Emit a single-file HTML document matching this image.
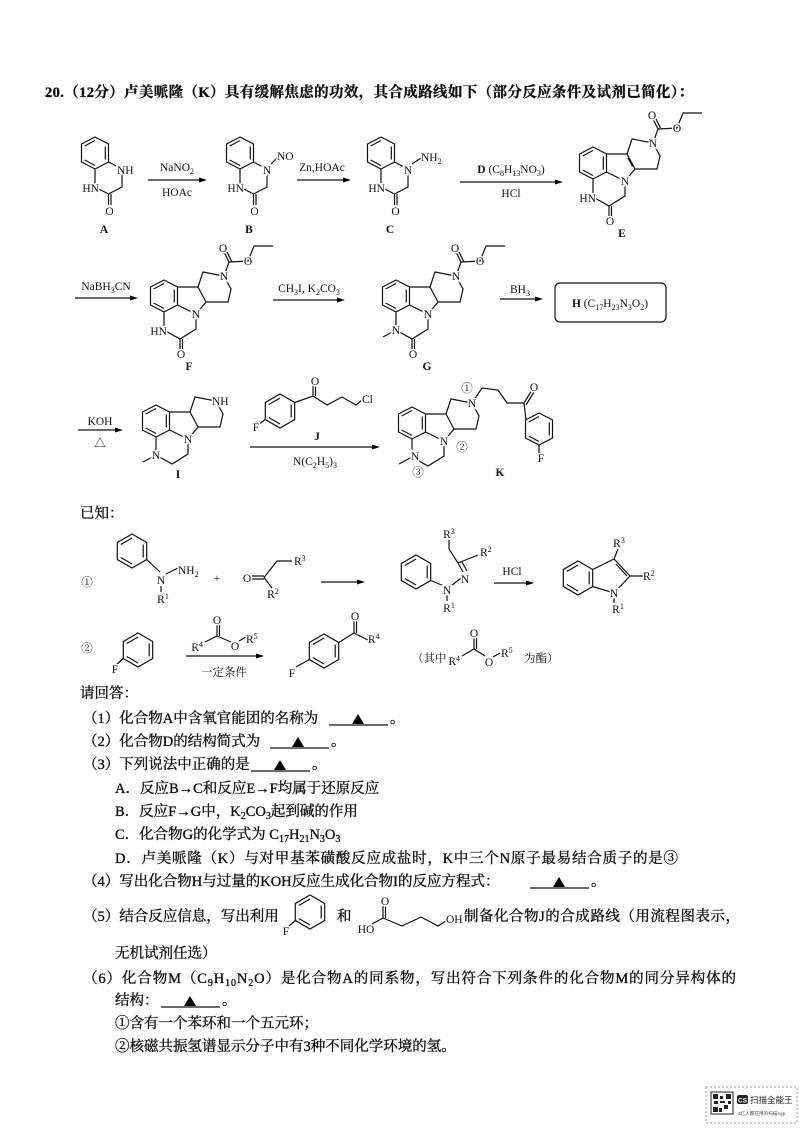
<!DOCTYPE html>
<html><head><meta charset="utf-8"><style>
html,body{margin:0;padding:0;background:#fff}
svg{display:block}
.t{font-family:"Liberation Serif","Noto Serif CJK SC",serif;font-size:14.5px;fill:#111;stroke:#111;stroke-width:0.35px}
.s{font-family:"Liberation Serif","Noto Serif CJK SC",serif;font-size:11.5px;fill:#111;stroke:#fff;stroke-width:3px;paint-order:stroke}
.m{font-family:"Liberation Serif","Noto Serif CJK SC",serif;font-size:11.5px;fill:#111}
.b{fill:none;stroke:#111;stroke-width:1.2}
</style></head><body>
<svg width="800" height="1132" viewBox="0 0 800 1132" xmlns="http://www.w3.org/2000/svg">
<defs>
<g id="bz"><polygon class="b" points="0,-16 13.5,-9 13.5,9 0,16 -13.5,9 -13.5,-9"/><path class="b" d="M0,-12.5 L-10.3,-7 M-10.3,7 L0,12.5 M10.3,-6.5 L10.3,6.5"/></g>
<g id="bzr"><polygon class="b" points="0,-17 14.7,-8.5 14.7,8.5 0,17 -14.7,8.5 -14.7,-8.5"/><path class="b" d="M0,-13 L-11.2,-6.5 M-11.2,6.5 L0,13 M11.2,-6.5 L11.2,6.5"/></g>
<g id="core"><use href="#bz"/>
<path class="b" d="M13.5,-9 L34,-9 L42,6 L32,18 L13.5,9 M34,-9 L39,-24 L60,-20 L67,-7 L64,6 L42,6 M0,16 L0,34 L16,43 L32,33 L32,18"/></g>
<g id="ester"><path class="b" d="M60,-20 L65,-34 L59,-46 M67.5,-35 L61.5,-47 M65,-34 L84,-35 L90,-50 L109,-50"/>
<text class="s" x="59" y="-44" text-anchor="middle">O</text><text class="s" x="84" y="-31" text-anchor="middle">O</text></g>
<g id="amide"><path class="b" d="M16,43 L16,53 M18.5,43 L18.5,53"/><text class="s" x="17" y="62" text-anchor="middle">O</text></g>
<g id="q"><use href="#bz"/><path class="b" d="M0,16 L0,34 L13.5,41 L27,34 L27,16 L13.5,9 M13.5,41 L13.5,52 M16,41 L16,52"/>
<text class="s" x="4" y="39" text-anchor="end">HN</text><text class="s" x="14.5" y="62" text-anchor="middle">O</text></g>
</defs>

<text class="t" x="45" y="97" font-weight="bold" textLength="648">20.（12分）卢美哌隆（K）具有缓解焦虑的功效，其合成路线如下（部分反应条件及试剂已简化）：</text>

<!-- Row 1 -->
<g transform="translate(95,153)"><use href="#q"/><text class="s" x="22" y="21">NH</text><text class="m" x="9" y="80" font-weight="bold" text-anchor="middle">A</text></g>
<g transform="translate(240,153)"><use href="#q"/><path class="b" d="M31,11 L38,4"/><text class="s" x="27" y="21" text-anchor="middle">N</text><text class="s" x="37" y="7">NO</text><text class="m" x="9" y="80" font-weight="bold" text-anchor="middle">B</text></g>
<g transform="translate(381,153)"><use href="#q"/><path class="b" d="M31,11 L40,5"/><text class="s" x="27" y="21" text-anchor="middle">N</text><text class="s" x="40" y="8">NH<tspan font-size="8" dy="3">2</tspan></text><text class="m" x="9" y="80" font-weight="bold" text-anchor="middle">C</text></g>

<path class="b" d="M148,180 L200,180"/><polygon points="207,180 199,177.5 199,182.5"/>
<text class="m" x="177" y="171" text-anchor="middle">NaNO<tspan font-size="8" dy="3">2</tspan></text>
<text class="m" x="177" y="196" text-anchor="middle">HOAc</text>
<path class="b" d="M297,180 L344,180"/><polygon points="351,180 343,177.5 343,182.5"/>
<text class="m" x="322" y="171" text-anchor="middle">Zn,HOAc</text>
<path class="b" d="M460,182 L556,182"/><polygon points="563,182 555,179.5 555,184.5"/>
<text class="m" x="511" y="173" text-anchor="middle"><tspan font-weight="bold">D</tspan> (C<tspan font-size="8" dy="3">8</tspan><tspan dy="-3">H</tspan><tspan font-size="8" dy="3">13</tspan><tspan dy="-3">NO</tspan><tspan font-size="8" dy="3">3</tspan><tspan dy="-3">)</tspan></text>
<text class="m" x="511" y="197" text-anchor="middle">HCl</text>

<g transform="translate(593,163)"><use href="#core"/><path class="b" d="M35,-5 L39.5,3.5"/><use href="#ester"/><use href="#amide"/>
<text class="s" x="32" y="22" text-anchor="middle">N</text><text class="s" x="60" y="-16" text-anchor="middle">N</text><text class="s" x="3" y="39" text-anchor="end">HN</text>
<text class="m" x="29" y="74" font-weight="bold" text-anchor="middle">E</text></g>

<!-- Row 2 -->
<path class="b" d="M75,298 L131,298"/><polygon points="138,298 130,295.5 130,300.5"/>
<text class="m" x="106" y="290" text-anchor="middle">NaBH<tspan font-size="8" dy="3">3</tspan><tspan dy="-3">CN</tspan></text>
<g transform="translate(164,296)"><use href="#core"/><use href="#ester"/><use href="#amide"/>
<text class="s" x="32" y="22" text-anchor="middle">N</text><text class="s" x="60" y="-16" text-anchor="middle">N</text><text class="s" x="3" y="39" text-anchor="end">HN</text>
<text class="m" x="25" y="74" font-weight="bold" text-anchor="middle">F</text></g>
<path class="b" d="M273,300 L338,300"/><polygon points="345,300 337,297.5 337,302.5"/>
<text class="m" x="309" y="292" text-anchor="middle">CH<tspan font-size="8" dy="3">3</tspan><tspan dy="-3">I, K</tspan><tspan font-size="8" dy="3">2</tspan><tspan dy="-3">CO</tspan><tspan font-size="8" dy="3">3</tspan></text>
<g transform="translate(396,296)"><use href="#core"/><use href="#ester"/><use href="#amide"/><path class="b" d="M0,34 L-13,41"/>
<text class="s" x="32" y="22" text-anchor="middle">N</text><text class="s" x="60" y="-16" text-anchor="middle">N</text><text class="s" x="0" y="38" text-anchor="middle">N</text>
<text class="m" x="31" y="74" font-weight="bold" text-anchor="middle">G</text></g>
<path class="b" d="M500,299 L536,299"/><polygon points="543,299 535,296.5 535,301.5"/>
<text class="m" x="520" y="293" text-anchor="middle">BH<tspan font-size="8" dy="3">3</tspan></text>
<rect x="555" y="283" width="111" height="39" rx="5" fill="none" stroke="#111" stroke-width="1.2"/>
<text class="m" x="610" y="307" text-anchor="middle"><tspan font-weight="bold">H</tspan> (C<tspan font-size="8" dy="3">17</tspan><tspan dy="-3">H</tspan><tspan font-size="8" dy="3">23</tspan><tspan dy="-3">N</tspan><tspan font-size="8" dy="3">3</tspan><tspan dy="-3">O</tspan><tspan font-size="8" dy="3">2</tspan><tspan dy="-3">)</tspan></text>

<!-- Row 3 -->
<path class="b" d="M78,430 L116,430"/><polygon points="123,430 115,427.5 115,432.5"/>
<text class="m" x="100" y="425" text-anchor="middle">KOH</text>
<text class="m" x="100" y="447" text-anchor="middle">△</text>
<g transform="translate(156,421)"><use href="#core"/><path class="b" d="M0,34 L-13,41"/>
<text class="s" x="32" y="22" text-anchor="middle">N</text><text class="s" x="56" y="-16">NH</text><text class="s" x="0" y="38" text-anchor="middle">N</text>
<text class="m" x="22" y="57" font-weight="bold" text-anchor="middle">I</text></g>

<g transform="translate(280,411)"><use href="#bzr"/></g>
<path class="b" d="M294.7,402.5 L313,396 L327,405 L342,397 L356,405 L362,400 M313,396 L313,384 M315.5,396 L315.5,384 M265.3,419.5 L259,424"/>
<text class="s" x="315" y="385" text-anchor="middle">O</text>
<text class="s" x="362" y="403">Cl</text>
<text class="s" x="256" y="431" text-anchor="middle">F</text>
<text class="m" x="317" y="440" font-weight="bold" text-anchor="middle">J</text>
<path class="b" d="M250,447 L373,447"/><polygon points="380,447 372,444.5 372,449.5"/>
<text class="m" x="315" y="465" text-anchor="middle">N(C<tspan font-size="8" dy="3">2</tspan><tspan dy="-3">H</tspan><tspan font-size="8" dy="3">5</tspan><tspan dy="-3">)</tspan><tspan font-size="8" dy="3">3</tspan></text>

<g transform="translate(412,423)"><use href="#core"/><path class="b" d="M0,34 L-13,41"/>
<path class="b" d="M60,-20 L70,-35 L86,-33 L95,-20 L112,-20 L120,-33 M114,-18 L122,-31 M112,-20 L114,-3"/>
<g transform="translate(127,6)"><use href="#bz"/></g>
<path class="b" d="M127,22 L127,30"/>
<text class="s" x="32" y="22" text-anchor="middle">N</text><text class="s" x="60" y="-16" text-anchor="middle">N</text><text class="s" x="3" y="37" text-anchor="middle">N</text>
<text class="s" x="122" y="-32" text-anchor="middle">O</text><text class="s" x="129" y="39" text-anchor="middle">F</text>
<text class="m" x="55" y="-31" font-size="12" text-anchor="middle">①</text>
<text class="m" x="50" y="28" font-size="12" text-anchor="middle">②</text>
<text class="m" x="6" y="53" font-size="12" text-anchor="middle">③</text>
<text class="m" x="88" y="53" font-weight="bold" text-anchor="middle">K</text></g>

<!-- Known -->
<text class="t" x="80" y="518">已知：</text>
<text class="m" x="87" y="586" font-size="13" text-anchor="middle">①</text>
<g transform="translate(132,551)"><use href="#bzr"/></g>
<path class="b" d="M146.7,559.5 L160,572 M166,574 L178,568 M161,586 L161,592"/>
<text class="s" x="161" y="584" text-anchor="middle">N</text>
<text class="s" x="178" y="574">NH<tspan font-size="8" dy="3">2</tspan></text>
<text class="s" x="163" y="603" text-anchor="middle">R<tspan font-size="8" dy="-4">1</tspan></text>
<text class="m" x="217" y="582" text-anchor="middle">+</text>
<path class="b" d="M250,576 L264,576 M250,579 L264,579 M264,577.5 L277,561 L292,561 M264,577.5 L272,588"/>
<text class="s" x="247" y="582" text-anchor="middle">O</text>
<text class="s" x="294" y="565">R<tspan font-size="8" dy="-4">3</tspan></text>
<text class="s" x="273" y="598" text-anchor="middle">R<tspan font-size="8" dy="-4">2</tspan></text>
<path class="b" d="M321,582 L358,582"/><polygon points="365,582 357,579.5 357,584.5"/>
<g transform="translate(416,572)"><use href="#bzr"/></g>
<path class="b" d="M430.7,580.5 L444,586 M451,586 L461,578 M463,572 L458,563 M467,571 L462,562 M458,563 L449,549 L449,540 M458,563 L478,555 M447,595 L447,601"/>
<text class="s" x="447" y="594" text-anchor="middle">N</text>
<text class="s" x="465" y="583" text-anchor="middle">N</text>
<text class="s" x="449" y="612" text-anchor="middle">R<tspan font-size="8" dy="-4">1</tspan></text>
<text class="s" x="449" y="538" text-anchor="middle">R<tspan font-size="8" dy="-4">3</tspan></text>
<text class="s" x="480" y="556">R<tspan font-size="8" dy="-4">2</tspan></text>
<path class="b" d="M494,583 L527,583"/><polygon points="534,583 526,580.5 526,585.5"/>
<text class="m" x="512" y="575" text-anchor="middle">HCl</text>
<g transform="translate(578,578)"><use href="#bzr"/></g>
<path class="b" d="M592.7,569.5 L614,559 L630,576 L614,593 L592.7,586.5 M616,564 L627,576 M614,559 L618,549 M630,576 L643,576 M614,598 L614,603"/>
<text class="s" x="614" y="597" text-anchor="middle">N</text>
<text class="s" x="619" y="547" text-anchor="middle">R<tspan font-size="8" dy="-4">3</tspan></text>
<text class="s" x="643" y="580">R<tspan font-size="8" dy="-4">2</tspan></text>
<text class="s" x="618" y="613" text-anchor="middle">R<tspan font-size="8" dy="-4">1</tspan></text>

<text class="m" x="87" y="652" font-size="13" text-anchor="middle">②</text>
<g transform="translate(138,650)"><use href="#bzr"/></g>
<path class="b" d="M123.3,658.5 L117,664"/>
<text class="s" x="115" y="673" text-anchor="middle">F</text>
<path class="b" d="M205,642 L217,636 L231,642 M217,636 L217,624 M219.5,636 L219.5,624 M239,641 L246,637"/>
<text class="s" x="217" y="624" text-anchor="middle">O</text>
<text class="s" x="203" y="651" text-anchor="end">R<tspan font-size="8" dy="-4">4</tspan></text>
<text class="s" x="235" y="650" text-anchor="middle">O</text>
<text class="s" x="246" y="643">R<tspan font-size="8" dy="-4">5</tspan></text>
<path class="b" d="M186,656 L257,656"/><polygon points="264,656 256,653.5 256,658.5"/>
<text class="m" x="224" y="676" font-size="12" text-anchor="middle">一定条件</text>
<g transform="translate(324,651)"><use href="#bzr"/></g>
<path class="b" d="M338.7,642.5 L354,633 L368,640 M354,633 L354,621 M356.5,633 L356.5,621 M309.3,659.5 L296,667"/>
<text class="s" x="355" y="620" text-anchor="middle">O</text>
<text class="s" x="368" y="643">R<tspan font-size="8" dy="-4">4</tspan></text>
<text class="s" x="292" y="677" text-anchor="middle">F</text>
<text class="m" x="412" y="662" font-size="12">（其中</text>
<path class="b" d="M462,656 L474,649 L485,656 M474,649 L474,638 M476.5,649 L476.5,638 M493,657 L500,653"/>
<text class="s" x="474" y="637" text-anchor="middle">O</text>
<text class="s" x="460" y="665" text-anchor="end">R<tspan font-size="8" dy="-4">4</tspan></text>
<text class="s" x="489" y="666" text-anchor="middle">O</text>
<text class="s" x="501" y="657">R<tspan font-size="8" dy="-4">5</tspan></text>
<text class="m" x="524" y="662" font-size="12">为酯）</text>

<!-- Questions -->
<text class="t" x="80" y="698">请回答：</text>
<text class="t" x="83" y="723">（1）化合物A中含氧官能团的名称为</text>
<path class="b" d="M329,725 L388,725"/><polygon points="358,714 352,724 364,724"/><text class="t" x="390" y="723">。</text>
<text class="t" x="83" y="746">（2）化合物D的结构简式为</text>
<path class="b" d="M270,748 L329,748"/><polygon points="298,737 292,747 304,747"/><text class="t" x="331" y="746">。</text>
<text class="t" x="83" y="769">（3）下列说法中正确的是</text>
<path class="b" d="M251,771 L310,771"/><polygon points="280,760 274,770 286,770"/><text class="t" x="312" y="769">。</text>
<text class="t" x="115" y="793">A．反应B→C和反应E→F均属于还原反应</text>
<text class="t" x="115" y="816">B．反应F→G中，K<tspan font-size="10" dy="3">2</tspan><tspan dy="-3">CO</tspan><tspan font-size="10" dy="3">3</tspan><tspan dy="-3">起到碱的作用</tspan></text>
<text class="t" x="115" y="839">C．化合物G的化学式为 C<tspan font-size="10" dy="3">17</tspan><tspan dy="-3">H</tspan><tspan font-size="10" dy="3">21</tspan><tspan dy="-3">N</tspan><tspan font-size="10" dy="3">3</tspan><tspan dy="-3">O</tspan><tspan font-size="10" dy="3">3</tspan></text>
<text class="t" x="115" y="863" textLength="563">D．卢美哌隆（K）与对甲基苯磺酸反应成盐时，K中三个N原子最易结合质子的是③</text>
<text class="t" x="83" y="886">（4）写出化合物H与过量的KOH反应生成化合物I的反应方程式：</text>
<path class="b" d="M530,888 L589,888"/><polygon points="559,877 553,887 565,887"/><text class="t" x="591" y="886">。</text>

<text class="t" x="83" y="921">（5）结合反应信息，写出利用</text>
<g transform="translate(310,912)"><use href="#bzr"/></g>
<path class="b" d="M295.3,920.5 L289,926"/>
<text class="s" x="286" y="935" text-anchor="middle">F</text>
<text class="t" x="337" y="921">和</text>
<path class="b" d="M372,924 L383,918 L402,926 L421,917 L438,926 L446,921 M383,918 L383,906 M385.5,918 L385.5,906"/>
<text class="s" x="385" y="905" text-anchor="middle">O</text>
<text class="s" x="366" y="933" text-anchor="middle">HO</text>
<text class="s" x="446" y="923">OH</text>
<text class="t" x="464" y="921" textLength="276">制备化合物J的合成路线（用流程图表示，</text>
<text class="t" x="115" y="958">无机试剂任选）</text>
<text class="t" x="83" y="983" textLength="653">（6）化合物M（C<tspan font-size="10" dy="3">9</tspan><tspan dy="-3">H</tspan><tspan font-size="10" dy="3">10</tspan><tspan dy="-3">N</tspan><tspan font-size="10" dy="3">2</tspan><tspan dy="-3">O）是化合物A的同系物，写出符合下列条件的化合物M的同分异构体的</tspan></text>
<text class="t" x="115" y="1005">结构：</text>
<path class="b" d="M161,1007 L220,1007"/><polygon points="190,996 184,1006 196,1006"/><text class="t" x="222" y="1005">。</text>
<text class="t" x="115" y="1028">①含有一个苯环和一个五元环；</text>
<text class="t" x="115" y="1051">②核磁共振氢谱显示分子中有3种不同化学环境的氢。</text>

<!-- Footer logo -->
<rect x="706" y="1087" width="91" height="36" fill="#fff" stroke="#999" stroke-width="1" stroke-dasharray="2,2"/>
<rect x="711" y="1092" width="22" height="22" fill="#fff" stroke="#222" stroke-width="1"/>
<path d="M713,1094h5v5h-5zM726,1094h5v5h-5zM713,1107h5v5h-5zM720,1096h3v3h-3zM720,1101h5v2h-5zM724,1105h4v4h-4zM719,1108h3v4h-3zM728,1101h3v3h-3zM714,1101h4v3h-4z" fill="#222"/>
<rect x="737" y="1095" width="11" height="9" rx="2" fill="#222"/>
<text x="742.5" y="1102.5" font-family="Liberation Sans,sans-serif" font-size="6.5" font-weight="bold" fill="#fff" text-anchor="middle">CS</text>
<text x="750" y="1103" font-family="Liberation Sans,'Noto Sans CJK SC',sans-serif" font-size="8.5" fill="#222">扫描全能王</text>
<text x="738" y="1115" font-family="Liberation Sans,'Noto Sans CJK SC',sans-serif" font-size="4.6" fill="#444">3亿人都在用的扫描App</text>
</svg>
</body></html>
